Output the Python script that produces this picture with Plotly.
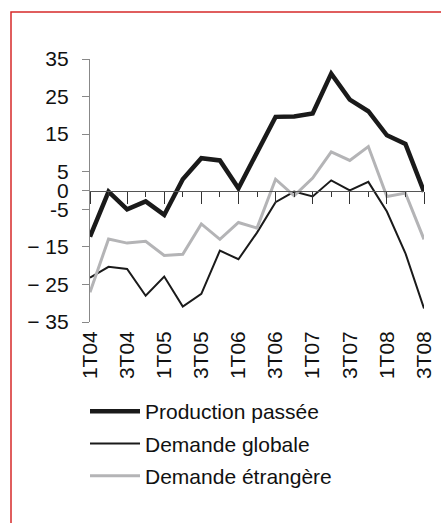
import plotly.graph_objects as go

quarters = ["1T04", "2T04", "3T04", "4T04", "1T05", "2T05", "3T05", "4T05",
            "1T06", "2T06", "3T06", "4T06", "1T07", "2T07", "3T07", "4T07",
            "1T08", "2T08", "3T08"]
production_passee = [-12.3, -0.3, -5.0, -2.9, -6.5, 3.0, 8.6, 8.0, 0.6, 10.0,
                     19.6, 19.7, 20.5, 31.1, 24.2, 21.1, 14.7, 12.4, -0.3]
demande_globale = [-23.2, -20.3, -20.9, -28.0, -22.9, -30.9, -27.5, -16.0, -18.3, -11.2,
                   -3.1, -0.3, -1.6, 2.7, 0.0, 2.3, -5.6, -16.7, -31.4]
demande_etrangere = [-27.1, -12.9, -14.0, -13.5, -17.3, -17.0, -8.9, -13.0, -8.5, -10.0,
                     3.0, -1.4, 3.3, 10.3, 8.0, 11.7, -1.6, -0.7, -13.0]

x_labels = quarters[::2]
y_tickvals = [35, 25, 15, 5, 0, -5, -15, -25, -35]
y_ticktext = ["35", "25", "15", "5", "0", "-5", "\u2212 15", "\u2212 25", "\u2212 35"]

FONT = "Liberation Sans, Arial, sans-serif"
W, H = 441, 523
L, R, T, B = 90, 17, 59, 201
pw, ph = W - L - R, H - T - B

def px_x(p):
    return (p - L) / pw

def px_y(p):
    return (H - B - p) / ph

fig = go.Figure()
fig.add_trace(go.Scatter(x=quarters, y=production_passee, mode="lines",
                         name="Production passée", legendgroup="a",
                         line=dict(color="#1a1a1a", width=4.5)))
fig.add_trace(go.Scatter(x=quarters, y=demande_globale, mode="lines",
                         name="Demande globale", legendgroup="b",
                         line=dict(color="#1a1a1a", width=2)))
fig.add_trace(go.Scatter(x=quarters, y=demande_etrangere, mode="lines",
                         name="Demande étrangère", legendgroup="c",
                         line=dict(color="#b4b4b6", width=3)))
# empty trace that only activates the zero-level tick axis
fig.add_trace(go.Scatter(x=list(range(len(quarters))), y=[None] * len(quarters),
                         xaxis="x2", yaxis="y", mode="lines", showlegend=False,
                         hoverinfo="skip"))

fig.update_layout(
    width=W, height=H,
    margin=dict(l=L, r=R, t=T, b=B, autoexpand=False),
    paper_bgcolor="white", plot_bgcolor="white",
    font=dict(family=FONT, color="#111111", size=19),
    showlegend=True,
    legend=dict(x=px_x(85), y=px_y(391), xanchor="left", yanchor="top",
                itemwidth=50,
                font=dict(size=21, family=FONT, color="#111111"),
                bgcolor="rgba(0,0,0,0)", tracegroupgap=2),
    xaxis=dict(type="category", categoryorder="array", categoryarray=quarters,
               range=[0, len(quarters) - 1], automargin=False,
               tickmode="array", tickvals=x_labels, ticktext=x_labels,
               tickangle=-90, showline=False, showgrid=False, zeroline=False,
               ticks="", ticklabelstandoff=4,
               tickfont=dict(size=21, family=FONT, color="#111111")),
    xaxis2=dict(overlaying="x", anchor="free", position=0.5,
                range=[0, len(quarters) - 1], showticklabels=False,
                showline=True, linecolor="#555555", linewidth=1.2,
                showgrid=False, zeroline=False,
                tickmode="linear", tick0=0, dtick=2,
                ticks="outside", ticklen=12, tickwidth=1.2, tickcolor="#333333",
                minor=dict(dtick=1, tick0=0, ticks="outside", ticklen=5,
                           tickwidth=1.2, tickcolor="#333333")),
    yaxis=dict(range=[-35, 35], tickmode="array", tickvals=y_tickvals,
               ticktext=y_ticktext, showline=True, linecolor="#888888",
               linewidth=1.2, ticks="outside", ticklen=7, tickwidth=1.2,
               tickcolor="#888888", showgrid=False, zeroline=False,
               ticklabelstandoff=9, automargin=False,
               tickfont=dict(size=21, family=FONT, color="#111111")),
    shapes=[dict(type="rect", xref="paper", yref="paper",
                 x0=px_x(11), y0=px_y(600), x1=px_x(520), y1=px_y(12),
                 line=dict(color="#d62a2a", width=1.5), layer="below")],
)

fig.write_html("out.html", config={"displayModeBar": False},
               post_script="document.body.style.margin='0';document.body.style.padding='0';")
